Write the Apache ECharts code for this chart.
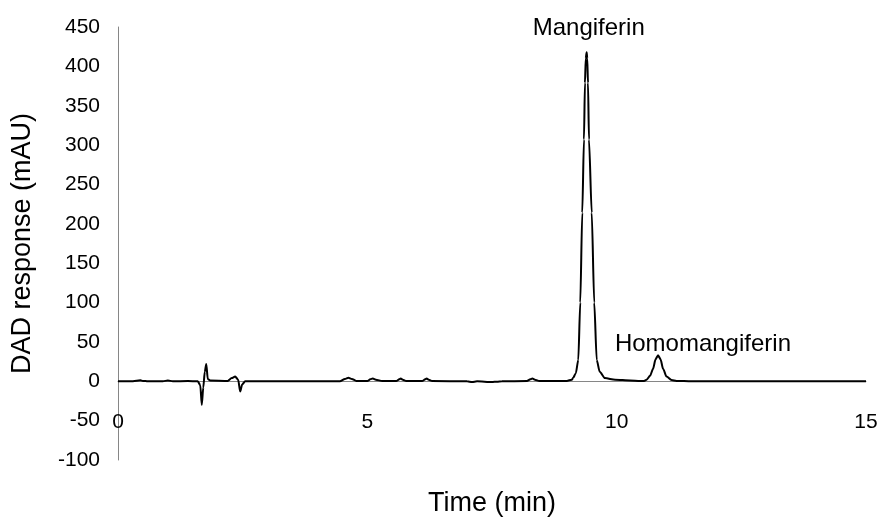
<!DOCTYPE html>
<html>
<head>
<meta charset="utf-8">
<script src="https://cdn.jsdelivr.net/npm/echarts@6.0.0/dist/echarts.min.js"></script>
<style>
  html, body { margin: 0; padding: 0; background: #fff; }
  #chart { width: 878px; height: 518px; }
</style>
</head>
<body>
<div id="chart"></div>
<script>
// retention time (min) and DAD response (mAU)
var times = [
  0, 0.3, 0.45, 0.5, 0.6, 0.9, 1.0, 1.1, 1.4, 1.6,
  1.65, 1.68, 1.71, 1.74, 1.77, 1.8, 1.85, 2.2, 2.28, 2.35,
  2.41, 2.45, 2.49, 2.55, 2.7, 4.45, 4.55, 4.62, 4.69, 4.78,
  5.0, 5.06, 5.11, 5.17, 5.3, 5.58, 5.64, 5.67, 5.71, 5.78,
  6.1, 6.16, 6.19, 6.23, 6.3, 7.0, 7.1, 7.2, 7.5, 7.6,
  7.7, 8.2, 8.27, 8.31, 8.36, 8.45, 9.0, 9.1, 9.124, 9.18,
  9.23, 9.27, 9.31, 9.344, 9.364, 9.38, 9.398, 9.41, 9.425, 9.445,
  9.5, 9.55, 9.6, 9.66, 9.765, 9.97, 10.27, 10.47, 10.55, 10.6,
  10.67, 10.73, 10.78, 10.83, 10.88, 10.93, 11.0, 11.1, 11.2, 11.5,
  15
];
var responses = [
  0, 0, 1.2, 0.5, 0, 0, 1, 0, 0.3, 0,
  -5, -30, -8, 12, 22, 3, 1, 0.5, 4, 6,
  2, -13, -4, 0, 0, 0, 3, 4.5, 3, 0.5,
  0.3, 2.5, 3.5, 2, 0.3, 0.3, 2.5, 3.5, 2, 0.3,
  0.3, 2.5, 3.5, 2, 0.3, 0, -1, 0, -1, -0.5,
  0, 0.3, 2.5, 3.5, 2, 0.3, 0.5, 2, 4, 10,
  27, 100, 214, 307, 379, 410, 418, 410, 379, 307,
  214, 100, 27, 12, 4, 2, 1, 0.5, 0.5, 2,
  7, 16, 28, 33, 28, 16, 6, 1.5, 0.5, 0,
  0
];

var peakNames = ['Mangiferin', 'Homomangiferin'];
var peakLabelX = [9.44, 11.73];
var peakLabelY = [448, 47];

var yMin = -100, yMax = 450, yStep = 50;
var xMin = 0, xMax = 15, xStep = 5;

var chart = echarts.init(document.getElementById('chart'));

var points = times.map(function (t, i) { return [t, responses[i]]; });
var marks = peakNames.map(function (n, i) {
  return { name: n, coord: [peakLabelX[i], peakLabelY[i]] };
});

var font = 'Liberation Sans, Arial, sans-serif';

var option = {
  animation: false,
  backgroundColor: '#fff',
  grid: { left: 118, right: 12, top: 27, bottom: 58, outerBoundsMode: 'none', containLabel: false },
  xAxis: {
    type: 'value',
    min: xMin, max: xMax, interval: xStep,
    name: 'Time (min)',
    nameLocation: 'middle',
    nameGap: 30,
    nameTextStyle: { fontFamily: font, fontSize: 27, color: '#000' },
    axisLine: { onZero: true, lineStyle: { color: '#868686', width: 1 } },
    axisTick: { show: false },
    splitLine: { show: false },
    // labels sit just under the zero line, well above the grid bottom
    axisLabel: { fontFamily: font, fontSize: 21, color: '#000', margin: -48 }
  },
  yAxis: {
    type: 'value',
    min: yMin, max: yMax, interval: yStep,
    name: 'DAD response (mAU)',
    nameLocation: 'middle',
    nameGap: 82,
    nameTextStyle: { fontFamily: font, fontSize: 27, color: '#000' },
    axisLine: { show: true, lineStyle: { color: '#868686', width: 1 } },
    axisTick: { show: false },
    splitLine: { show: false },
    axisLabel: { fontFamily: font, fontSize: 21, color: '#000', margin: 18 }
  },
  series: [{
    type: 'line',
    data: points,
    showSymbol: false,
    smooth: 0.25,
    smoothMonotone: 'x',
    lineStyle: { color: '#000', width: 2 },
    itemStyle: { color: '#000' },
    markPoint: {
      symbol: 'circle',
      symbolSize: 1,
      itemStyle: { color: 'rgba(0,0,0,0)' },
      label: {
        show: true,
        position: 'inside',
        formatter: '{b}',
        fontFamily: font,
        fontSize: 24,
        color: '#000'
      },
      data: marks
    }
  }]
};

chart.setOption(option);
</script>
</body>
</html>
